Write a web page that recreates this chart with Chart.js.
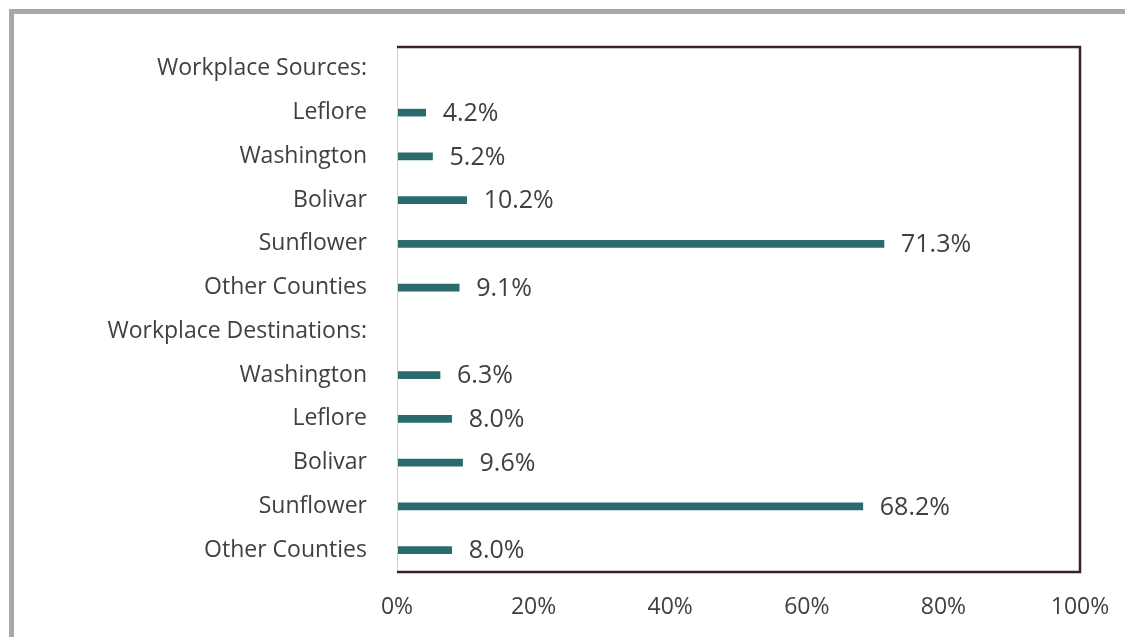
<!DOCTYPE html>
<html>
<head>
<meta charset="utf-8">
<script src="https://cdn.jsdelivr.net/npm/chart.js@4"></script>
<style>
  html, body { margin: 0; padding: 0; background: #fff; }
  .frame {
    position: absolute; left: 9px; top: 9px; width: 1200px; height: 700px;
    border-top: 5px solid #a9a9a9; border-left: 5px solid #a9a9a9;
  }
  .wrap { position: absolute; left: 0; top: 0; width: 1125px; height: 637px; }
</style>
</head>
<body>
<div class="frame"></div>
<div class="wrap"><canvas id="chart" width="1125" height="637"></canvas></div>
<script>
// categories (header rows have no bar)
const categories = [
    'Workplace Sources:',
    'Leflore',
    'Washington',
    'Bolivar',
    'Sunflower',
    'Other Counties',
    'Workplace Destinations:',
    'Washington',
    'Leflore',
    'Bolivar',
    'Sunflower',
    'Other Counties'
];
const shares = [null, 4.2, 5.2, 10.2, 71.3, 9.1, null, 6.3, 8.0, 9.6, 68.2, 8.0];
const xTicks = [0, 20, 40, 60, 80, 100];

const barColor = '#2b6b6e';
const frameColor = '#3b2426';
const textColor = '#404040';
const fontFamily = '"Open Sans", "Noto Sans", sans-serif';

// value labels at the end of each bar
const valueLabels = {
    id: 'valueLabels',
    afterDatasetsDraw(chart) {
        const ctx = chart.ctx;
        const meta = chart.getDatasetMeta(0);
        ctx.save();
        ctx.fillStyle = textColor;
        ctx.font = '25px ' + fontFamily;
        ctx.textBaseline = 'middle';
        ctx.textAlign = 'left';
        meta.data.forEach((bar, i) => {
            const v = shares[i];
            if (v === null) return;
            ctx.fillText(v.toFixed(1) + '%', bar.x + 17, bar.y + 1);
        });
        ctx.restore();
    }
};

// box around the plot area: light left edge, dark other edges
const plotFrame = {
    id: 'plotFrame',
    afterDraw(chart) {
        const { left, right, top, bottom } = chart.chartArea;
        const ctx = chart.ctx;
        ctx.save();
        ctx.lineWidth = 1;
        ctx.strokeStyle = '#d0d0d0';
        ctx.beginPath();
        ctx.moveTo(left + 0.5, top);
        ctx.lineTo(left + 0.5, bottom);
        ctx.stroke();
        ctx.lineWidth = 2.5;
        ctx.strokeStyle = frameColor;
        ctx.beginPath();
        ctx.moveTo(left, top);
        ctx.lineTo(right, top);
        ctx.lineTo(right, bottom);
        ctx.lineTo(left, bottom);
        ctx.stroke();
        ctx.restore();
    }
};

new Chart(document.getElementById('chart'), {
    type: 'bar',
    data: {
        labels: categories,
        datasets: [{
            data: shares,
            backgroundColor: barColor,
            barThickness: 7,
            borderWidth: 0
        }]
    },
    options: {
        indexAxis: 'y',
        responsive: false,
        animation: false,
        layout: { padding: { top: 47, right: 45, left: 0, bottom: 0 } },
        plugins: {
            legend: { display: false },
            tooltip: { enabled: false }
        },
        scales: {
            x: {
                min: 0,
                max: 100,
                afterBuildTicks(scale) {
                    scale.ticks = xTicks.map(v => ({ value: v }));
                },
                afterFit(scale) {
                    scale.height = 65;
                    scale.paddingLeft = 0;
                    scale.paddingRight = 0;
                },
                grid: { display: false, drawTicks: false },
                border: { display: false },
                ticks: {
                    padding: 22,
                    color: textColor,
                    font: { family: fontFamily, size: 23 },
                    callback: v => v + '%'
                }
            },
            y: {
                afterFit(scale) { scale.width = 397; },
                grid: { display: false, drawTicks: false },
                border: { display: false },
                ticks: {
                    padding: 30,
                    color: textColor,
                    font: { family: fontFamily, size: 23 },
                    autoSkip: false
                }
            }
        }
    },
    plugins: [valueLabels, plotFrame]
});
</script>
</body>
</html>
